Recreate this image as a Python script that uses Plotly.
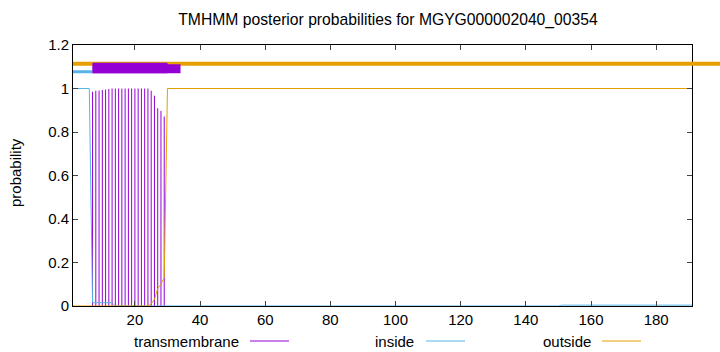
import plotly.graph_objects as go

# ---- data ----
seq_len = 191
title = "TMHMM posterior probabilities for MGYG000002040_00354"

# transmembrane posterior (drawn as impulses), residues 7..29
tm_res = list(range(7, 30))
tm_prob = [0.985, 0.99, 0.99, 0.993, 0.995, 0.998, 1.0, 1.0, 1.0, 1.0, 1.0,
           1.0, 1.0, 1.0, 1.0, 1.0, 1.0, 1.0, 0.99, 0.967, 0.909, 0.897, 0.871]

# inside posterior (breakpoints of the line)
in_res = [1, 6, 7, 13, 14, 150, 151, 191]
in_prob = [1.0, 1.0, 0.015, 0.015, 0.0, 0.0, 0.004, 0.004]

# outside posterior (breakpoints of the line)
out_res = [1, 23, 24, 25, 26, 27, 28, 29, 30, 191]
out_prob = [0.0, 0.0, 0.0, 0.01, 0.03, 0.08, 0.10, 0.13, 1.0, 1.0]

# predicted topology bars at the top
inside_seg = (1, 7)
tm_seg = (7, 30)
tm_seg_ext = (7, 34)
outside_level = 1.114
inside_level = 1.077

legend_names = ["transmembrane", "inside", "outside"]
C_TM = "#9400D3"
C_IN = "#56B4E9"
C_OUT = "#E69F00"

FONT = "Liberation Sans"
FS = 15

# ---- figure ----
fig = go.Figure()

ix, iy = [], []
for r, p in zip(tm_res, tm_prob):
    ix += [r, r, None]
    iy += [0, p, None]
fig.add_trace(go.Scatter(x=ix, y=iy, mode="lines",
                         line=dict(color=C_TM, width=1), showlegend=False))
fig.add_trace(go.Scatter(x=in_res, y=in_prob, mode="lines",
                         line=dict(color=C_IN, width=1), showlegend=False))
fig.add_trace(go.Scatter(x=out_res, y=out_prob, mode="lines",
                         line=dict(color=C_OUT, width=1), showlegend=False))

L, R, T, B = 73, 28, 45, 46
W, H = 720, 352
pw = W - L - R
ph = H - T - B
ymax = 1.2

shapes = []
# outside bar: extends beyond plot to right edge of canvas (unclipped)
shapes.append(dict(type="line", xref="paper", yref="paper",
                   x0=0, x1=(W - L) / pw,
                   y0=outside_level / ymax, y1=outside_level / ymax,
                   line=dict(color=C_OUT, width=4), layer="above"))
# inside bar
shapes.append(dict(type="line", xref="x", yref="y",
                   x0=inside_seg[0], x1=inside_seg[1],
                   y0=inside_level, y1=inside_level,
                   line=dict(color=C_IN, width=3), layer="above"))
# TM box
shapes.append(dict(type="rect", xref="x", yref="y",
                   x0=tm_seg[0], x1=tm_seg[1], y0=1.070, y1=1.118,
                   fillcolor=C_TM, line=dict(width=0), layer="above"))
shapes.append(dict(type="rect", xref="x", yref="y",
                   x0=tm_seg_ext[0], x1=tm_seg_ext[1], y0=1.070, y1=1.112,
                   fillcolor=C_TM, line=dict(width=0), layer="above"))

annotations = []
# legend (gnuplot style: text then sample line)
leg_py = (H - 341 - B) / ph
leg_text_right = [241, 416, 593]
leg_line = [(250, 289), (426, 465), (602, 641)]
for name, tx, (lx0, lx1), col in zip(legend_names, leg_text_right, leg_line,
                                      [C_TM, C_IN, C_OUT]):
    annotations.append(dict(text=name, xref="paper", yref="paper",
                            x=(tx - L) / pw, y=leg_py,
                            xanchor="right", yanchor="middle", showarrow=False,
                            font=dict(family=FONT, size=FS, color="black")))
    shapes.append(dict(type="line", xref="paper", yref="paper",
                       x0=(lx0 - L) / pw, x1=(lx1 - L) / pw,
                       y0=leg_py, y1=leg_py,
                       line=dict(color=col, width=1)))

# y axis title
annotations.append(dict(text="probability", xref="paper", yref="paper",
                        x=(15 - L) / pw, y=(H - 173 - B) / ph, textangle=-90,
                        xanchor="center", yanchor="middle", showarrow=False,
                        font=dict(family=FONT, size=FS, color="black")))

fig.update_layout(
    width=W, height=H,
    margin=dict(l=L, r=R, t=T, b=B),
    plot_bgcolor="white", paper_bgcolor="white",
    title=dict(text=title, x=388 / W, xref="container", xanchor="center",
               y=1 - 20 / H, yref="container", yanchor="middle",
               font=dict(family=FONT, size=15.7, color="black")),
    shapes=shapes, annotations=annotations,
    showlegend=False,
    font=dict(family=FONT, size=FS, color="black"),
)
fig.update_xaxes(range=[1, seq_len], tickmode="array",
                 tickvals=list(range(20, 181, 20)),
                 ticks="inside", ticklen=5, tickcolor="#444",
                 showline=True, linecolor="black", linewidth=1, mirror="ticks",
                 showgrid=False, zeroline=False,
                 tickfont=dict(family=FONT, size=FS, color="black"))
fig.update_yaxes(range=[0, ymax], tickmode="array",
                 tickvals=[0, 0.2, 0.4, 0.6, 0.8, 1.0, 1.2],
                 ticktext=["0", "0.2", "0.4", "0.6", "0.8", "1", "1.2"],
                 ticks="inside", ticklen=5, tickcolor="#444",
                 showline=True, linecolor="black", linewidth=1, mirror="ticks",
                 showgrid=False, zeroline=False,
                 tickfont=dict(family=FONT, size=FS, color="black"))

fig.write_html("out.html")
